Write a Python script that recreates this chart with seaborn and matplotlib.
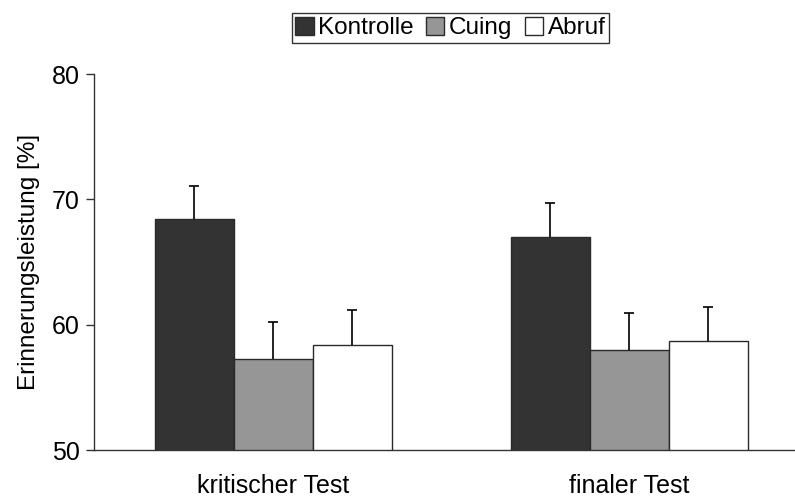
import matplotlib
matplotlib.use("Agg")
import matplotlib.pyplot as plt
import seaborn as sns
import pandas as pd
from matplotlib.patches import Patch

tests = ["kritischer Test", "finaler Test"]
conditions = ["Kontrolle", "Cuing", "Abruf"]
kontrolle = [68.4, 67.0]
cuing = [57.3, 58.0]
abruf = [58.4, 58.7]
kontrolle_err = [2.7, 2.7]
cuing_err = [2.9, 2.9]
abruf_err = [2.8, 2.7]
colors = ["#333333", "#969696", "#ffffff"]

rows = []
for cond, vals, errs in zip(conditions, [kontrolle, cuing, abruf],
                            [kontrolle_err, cuing_err, abruf_err]):
    for t, v, e in zip(tests, vals, errs):
        rows.append({"Test": t, "Bedingung": cond, "Wert": v, "Fehler": e})
df = pd.DataFrame(rows)

sns.set_style("white")
plt.rcParams["font.family"] = ["Liberation Sans", "DejaVu Sans"]
plt.rcParams["text.color"] = "black"
plt.rcParams["axes.labelcolor"] = "black"
plt.rcParams["xtick.color"] = "black"
plt.rcParams["ytick.color"] = "black"

fig = plt.figure(figsize=(7.95, 4.97), dpi=100)
ax = fig.add_axes([94 / 795, 47 / 497, 713 / 795, (450 - 74) / 497])

sns.barplot(data=df, x="Test", y="Wert", hue="Bedingung", order=tests,
            hue_order=conditions, palette=colors, width=0.666,
            errorbar=None, edgecolor="#2a2a2a", linewidth=1.0,
            legend=False, ax=ax)

# error bars (upward only) placed at bar centers
for i, cond in enumerate(conditions):
    sub = df[df["Bedingung"] == cond].set_index("Test").loc[tests]
    bars = ax.containers[i]
    xs = [b.get_x() + b.get_width() / 2 for b in bars]
    eb = ax.errorbar(xs, sub["Wert"].values,
                     yerr=[[0] * len(xs), sub["Fehler"].values],
                     fmt="none", ecolor="black", elinewidth=1.2,
                     capsize=3.5, capthick=1.2, zorder=1)
    caplines = eb[1]
    if len(caplines) == 2:
        caplines[0].set_visible(False)

ax.set_ylim(50, 80)
ax.set_xlim(-0.504, 1.5)
ax.set_yticks([50, 60, 70, 80])
ax.tick_params(axis="y", which="major", direction="out", length=6,
               width=1, color="#333333", labelsize=18, pad=4, left=True,
               labelcolor="black")
ax.tick_params(axis="x", length=0, pad=17, labelsize=18, labelcolor="black")
ax.set_xlabel("")
ax.set_ylabel("Erinnerungsleistung [%]", fontsize=17.5, labelpad=9,
              color="black")
for s in ["top", "right"]:
    ax.spines[s].set_visible(False)
for s in ["left", "bottom"]:
    ax.spines[s].set_color("#333333")
    ax.spines[s].set_linewidth(1.0)

handles = [Patch(facecolor=c, edgecolor="#2a2a2a", linewidth=1.0)
           for c in colors]
leg = fig.legend(handles, conditions, loc="center", ncol=3,
                 bbox_to_anchor=(450.5 / 795, 1 - 28 / 497),
                 fontsize=17.5, frameon=True, fancybox=False,
                 handlelength=0.75, handleheight=0.75, handletextpad=0.2,
                 columnspacing=0.5, borderpad=0.15, borderaxespad=0)
leg.get_frame().set_edgecolor("black")
leg.get_frame().set_linewidth(1.0)
for t in leg.get_texts():
    t.set_color("black")

fig.savefig("out.png", dpi=100)
